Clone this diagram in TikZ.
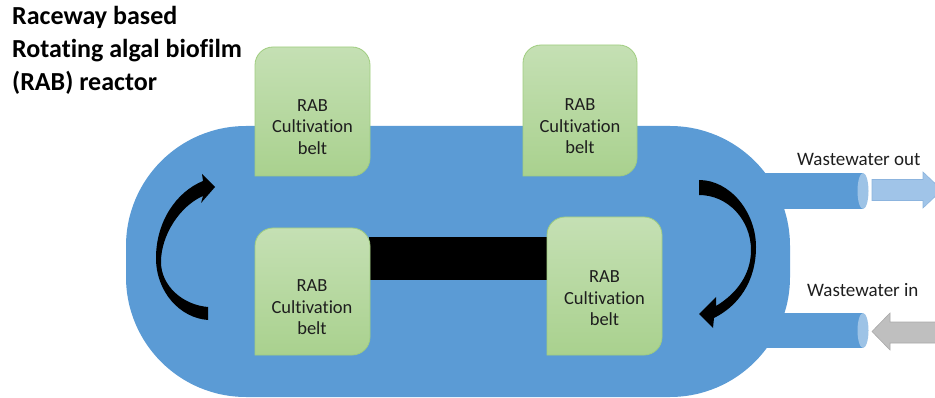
\documentclass[tikz,border=0pt]{standalone}
\usepackage{fontspec}
\setmainfont{Carlito}[Ligatures=NoCommon]
\definecolor{bodyblue}{RGB}{91,155,213}
\definecolor{capblue}{RGB}{157,195,230}
\definecolor{belttop}{RGB}{197,224,180}
\definecolor{beltbot}{RGB}{169,209,142}
\definecolor{beltedge}{RGB}{160,205,128}
\definecolor{txt}{RGB}{30,30,30}
\definecolor{outfill}{RGB}{160,196,232}
\definecolor{outedge}{RGB}{140,180,222}
\definecolor{infill}{RGB}{191,191,191}
\definecolor{inedge}{RGB}{170,170,170}
\begin{document}
\begin{tikzpicture}[x=1pt,y=-1pt,
  beltbox/.style={draw=beltedge, line width=0.8pt, top color=belttop, bottom color=beltbot},
  belttext/.style={font=\fontsize{18.5}{21.5}\selectfont, align=center, text=txt, inner sep=0pt},
  titletext/.style={font=\fontsize{26}{32.7}\selectfont\bfseries, anchor=base west, inner sep=0pt, text=black},
  flowlabel/.style={font=\fontsize{19}{22}\selectfont, anchor=base west, inner sep=0pt, text=txt},
  crescent/.style={fill=black},
  outarrow/.style={draw=outedge, line width=0.6pt, fill=outfill},
  inarrow/.style={draw=inedge, line width=0.6pt, fill=infill}]
\useasboundingbox (0,0) rectangle (935,398);
\clip (0,0) rectangle (935,398);
% title
\node[titletext] (t1) at (12,25) {Raceway based};
\node[titletext] (t2) at (12,58) {Rotating algal biofilm};
\node[titletext] (t3) at (12,91) {(RAB) reactor};
% raceway body and pipes
\fill[bodyblue, rounded corners=120pt] (126,126) rectangle (790,397);
\fill[bodyblue] (740,173) rectangle (863,209);
\fill[bodyblue] (740,313) rectangle (863,348);
\fill[capblue] (863,191) ellipse [x radius=5.5, y radius=18];
\fill[capblue] (863,330.5) ellipse [x radius=5.5, y radius=17.5];
% black bar between lower belts
\fill[black] (369,237) rectangle (548,280);
% belts
\newcommand\beltshape[4]{\draw[beltbox] (#1,#4) [rounded corners=18pt] -- (#1,#2) -- (#3,#2) -- (#3,#4) [sharp corners] -- cycle;}
\beltshape{255}{47}{370}{176}
\beltshape{523}{45}{637}{176}
\beltshape{255}{228}{370}{355}
\beltshape{547}{217}{662}{355}
\node[belttext] (b1) at (312.5,127) {RAB\\Cultivation\\belt};
\node[belttext] (b2) at (580,126.5) {RAB\\Cultivation\\belt};
\node[belttext] (b3) at (312,307.5) {RAB\\Cultivation\\belt};
\node[belttext] (b4) at (604.5,298.5) {RAB\\Cultivation\\belt};
% left curved arrow
\fill[crescent] (208,320) .. controls (180,318) and (156,292) .. (156,258)
  .. controls (156,222) and (176,192) .. (203,181)
  -- (202,174) -- (215,187) -- (201,203) -- (203,196)
  .. controls (180,206) and (161,235) .. (161,262)
  .. controls (161,286) and (183,305) .. (208,307) -- cycle;
% right curved arrow
\fill[crescent] (699,180) .. controls (730,180) and (756,212) .. (756,247)
  .. controls (756,282) and (738,306) .. (714,318)
  -- (713,328) -- (699,314) -- (716,297) -- (716,306)
  .. controls (736,294) and (751,275) .. (751,250)
  .. controls (751,220) and (728,195) .. (699,195) -- cycle;
% inflow / outflow arrows
\draw[outarrow] (872,179.5) -- (923,179.5) -- (923,172) -- (942,190) -- (923,208) -- (923,200.5) -- (872,200.5) -- cycle;
\draw[inarrow] (945,322) -- (890,322) -- (890,313) -- (872,331.5) -- (890,350) -- (890,343) -- (945,343) -- cycle;
\node[flowlabel] (wout) at (797,166) {Wastewater out};
\node[flowlabel] (win) at (807,297) {Wastewater in};
\end{tikzpicture}
\end{document}
